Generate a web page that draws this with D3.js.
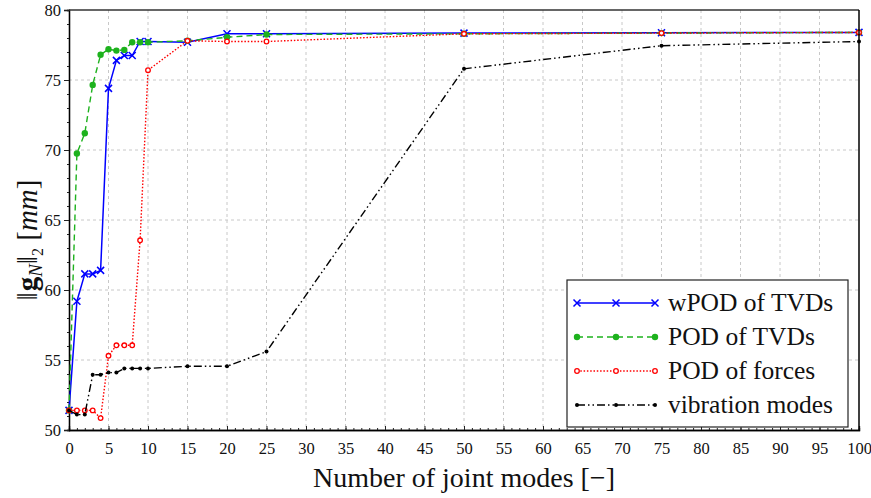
<!DOCTYPE html>
<html>
<head>
<meta charset="utf-8">
<script src="https://cdn.jsdelivr.net/npm/d3@7"></script>
<style>
  body { margin: 0; background: #fff; }
  text { font-family: "Liberation Serif", "DejaVu Serif", serif; fill: #111; }
</style>
</head>
<body>
<script>
// number of joint modes
var modes = [0, 1, 2, 3, 4, 5, 6, 7, 8, 9, 10, 15, 20, 25, 50, 75, 100];

// ||g_N||_2 in mm
var wpodTVD   = [51.4, 59.2, 61.15, 61.15, 61.4, 74.4, 76.4, 76.75, 76.75, 77.75, 77.75, 77.7, 78.3, 78.3, 78.35, 78.38, 78.4];
var podTVD    = [51.4, 69.75, 71.2, 74.65, 76.8, 77.2, 77.1, 77.15, 77.7, 77.7, 77.7, 77.8, 78.05, 78.25, 78.3, 78.35, 78.4];
var podForces = [51.4, 51.4, 51.4, 51.4, 50.85, 55.3, 56.05, 56.05, 56.05, 63.55, 75.7, 77.8, 77.75, 77.75, 78.3, 78.35, 78.4];
var vibModes  = [51.4, 51.1, 51.1, 53.95, 53.95, 54.1, 54.1, 54.4, 54.4, 54.4, 54.4, 54.55, 54.55, 55.6, 75.8, 77.45, 77.75];

var xTicks = d3.range(0, 101, 5);
var yTicks = d3.range(50, 81, 5);

var seriesNames = ["wPOD of TVDs", "POD of TVDs", "POD of forces", "vibration modes"];

draw();

function draw() {
  var width = 871, height = 498;
  var pLeft = 69, pRight = 859, pTop = 10, pBottom = 430;

  var svg = d3.select("body")
    .append("svg")
    .attr("width", width)
    .attr("height", height);

  var x = d3.scaleLinear().domain([0, 100]).range([pLeft, pRight]);
  var y = d3.scaleLinear().domain([50, 80]).range([pBottom, pTop]);

  var series = [
    { name: seriesNames[0], values: wpodTVD,   color: "#0000ff", dash: null,               marker: "cross" },
    { name: seriesNames[1], values: podTVD,    color: "#1db21d", dash: "6,4",              marker: "dot" },
    { name: seriesNames[2], values: podForces, color: "#ff0000", dash: "1.5,1.8",          marker: "ring" },
    { name: seriesNames[3], values: vibModes,  color: "#000000", dash: "8,3,1.5,3,1.5,3",  marker: "small" }
  ];

  // grid
  svg.append("g")
    .selectAll("line")
    .data(xTicks.filter(d => d > 0 && d < 100))
    .enter()
    .append("line")
    .attr("x1", d => x(d)).attr("x2", d => x(d))
    .attr("y1", pTop).attr("y2", pBottom)
    .style("stroke", "#c8c8c8")
    .style("stroke-dasharray", "3,3");

  svg.append("g")
    .selectAll("line")
    .data(yTicks.filter(d => d > 50 && d < 80))
    .enter()
    .append("line")
    .attr("x1", pLeft).attr("x2", pRight)
    .attr("y1", d => y(d)).attr("y2", d => y(d))
    .style("stroke", "#c8c8c8")
    .style("stroke-dasharray", "3,3");

  // axes
  var xAxis = svg.append("g")
    .attr("transform", "translate(0," + pBottom + ")")
    .call(d3.axisBottom(x).tickValues(xTicks).tickSize(-4).tickPadding(12).tickFormat(d3.format("d")));

  var xMinor = svg.append("g")
    .attr("transform", "translate(0," + pBottom + ")")
    .call(d3.axisBottom(x).tickValues(d3.range(0, 101, 1)).tickSize(-2).tickFormat(""));

  var yAxis = svg.append("g")
    .attr("transform", "translate(" + pLeft + ",0)")
    .call(d3.axisLeft(y).tickValues(yTicks).tickSize(5).tickPadding(3).tickFormat(d3.format("d")));

  var yMinor = svg.append("g")
    .attr("transform", "translate(" + pLeft + ",0)")
    .call(d3.axisLeft(y).tickValues(d3.range(50, 81, 1)).tickSize(2).tickFormat(""));

  [xAxis, xMinor, yAxis, yMinor].forEach(function(a) {
    a.attr("font-family", "Liberation Serif").attr("font-size", 16.5);
    a.select(".domain").style("stroke", "#000").style("stroke-width", 1.3);
    a.selectAll(".tick line").style("stroke", "#222");
    a.selectAll("text")
      .style("font-size", "16.5px")
      .style("font-family", "'Liberation Serif', serif")
      .style("fill", "#111");
  });

  // lines and markers
  var line = d3.line()
    .x((d, i) => x(modes[i]))
    .y(d => y(d));

  series.forEach(function(s) {
    svg.append("path")
      .datum(s.values)
      .attr("d", line)
      .style("fill", "none")
      .style("stroke", s.color)
      .style("stroke-width", s.marker == "cross" ? 1.5 : 1.4)
      .style("stroke-dasharray", s.dash);

    var pts = s.values.map((v, i) => [x(modes[i]), y(v)]);
    drawMarkers(svg, pts, s);
  });

  // box top / right
  svg.append("line")
    .attr("x1", pLeft).attr("x2", pRight).attr("y1", pTop).attr("y2", pTop)
    .style("stroke", "#333").style("stroke-width", 1.5);
  svg.append("line")
    .attr("x1", pRight).attr("x2", pRight).attr("y1", pTop).attr("y2", pBottom)
    .style("stroke", "#000").style("stroke-width", 1.5);

  // axis titles
  svg.append("text")
    .attr("x", 464)
    .attr("y", 487)
    .attr("text-anchor", "middle")
    .style("font-size", "28px")
    .text("Number of joint modes [\u2212]");

  var yl = svg.append("text")
    .attr("transform", "translate(37,240) rotate(-90)")
    .attr("text-anchor", "middle")
    .style("font-size", "29px");
  yl.append("tspan").text("\u2016");
  yl.append("tspan").attr("dx", 1).style("font-weight", "bold").text("g");
  yl.append("tspan").attr("dy", 5).style("font-style", "italic").style("font-size", "19px").text("N");
  yl.append("tspan").attr("dy", -5).text("\u2016");
  yl.append("tspan").attr("dy", 6).style("font-size", "16px").text("2");
  yl.append("tspan").attr("dy", -6).text(" [");
  yl.append("tspan").style("font-style", "italic").text("mm");
  yl.append("tspan").text("]");

  // legend
  var legend = svg.append("g");
  legend.append("rect")
    .attr("x", 567).attr("y", 280)
    .attr("width", 281).attr("height", 147)
    .style("fill", "#fff")
    .style("stroke", "#222")
    .style("stroke-width", 1.2);

  series.forEach(function(s, i) {
    var ly = 303 + i * 34;
    legend.append("line")
      .attr("x1", 577).attr("x2", 655).attr("y1", ly).attr("y2", ly)
      .style("stroke", s.color)
      .style("stroke-width", 1.5)
      .style("stroke-dasharray", s.dash);
    drawMarkers(legend, [[577, ly], [616, ly], [655, ly]], s);
    legend.append("text")
      .attr("x", 668).attr("y", ly + 8)
      .style("font-size", "25.5px")
      .text(s.name);
  });
}

function drawMarkers(g, pts, s) {
  var m = g.append("g");
  pts.forEach(function(p) {
    if (s.marker == "cross") {
      m.append("path")
        .attr("d", "M-3.5,-3.5L3.5,3.5M-3.5,3.5L3.5,-3.5")
        .attr("transform", "translate(" + p[0] + "," + p[1] + ")")
        .style("stroke", s.color).style("stroke-width", 1.5);
    } else if (s.marker == "dot") {
      m.append("circle").attr("cx", p[0]).attr("cy", p[1]).attr("r", 3.2)
        .style("fill", s.color);
    } else if (s.marker == "ring") {
      m.append("circle").attr("cx", p[0]).attr("cy", p[1]).attr("r", 2.3)
        .style("fill", "#fff").style("stroke", s.color).style("stroke-width", 1.3);
    } else {
      m.append("circle").attr("cx", p[0]).attr("cy", p[1]).attr("r", 2)
        .style("fill", s.color);
    }
  });
}
</script>
</body>
</html>
